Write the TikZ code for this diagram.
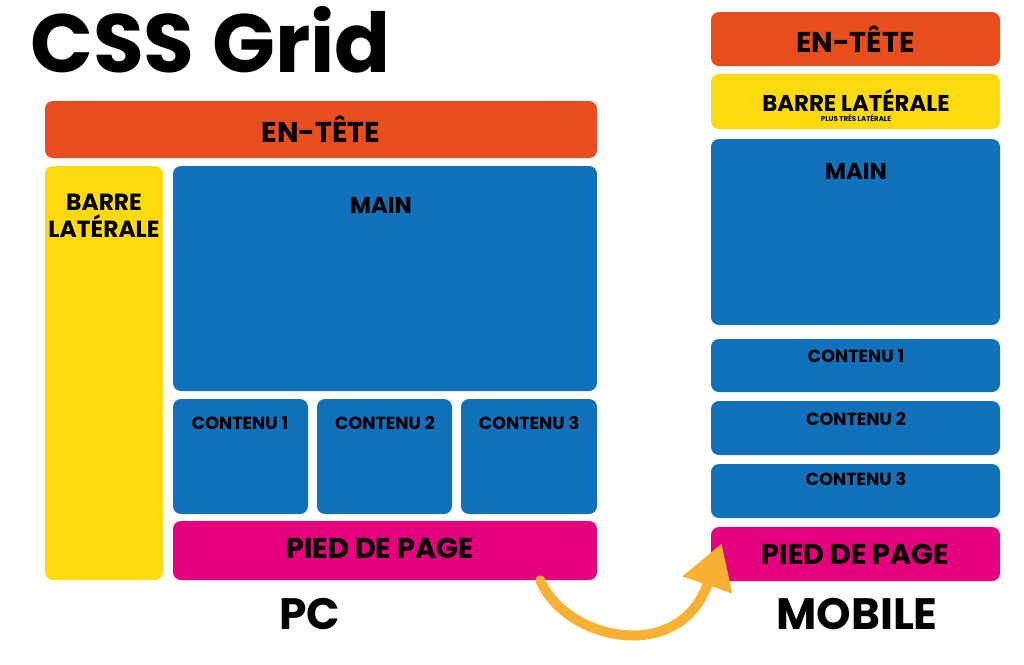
\documentclass[tikz,border=0pt]{standalone}
\usepackage{fontspec}
\setmainfont{Poppins}
\usetikzlibrary{arrows.meta,fit,positioning}
\definecolor{orangeCSS}{HTML}{E84E1B}
\definecolor{jauneCSS}{HTML}{FDDA0F}
\definecolor{bleuCSS}{HTML}{1171BA}
\definecolor{roseCSS}{HTML}{E5007D}
\definecolor{flecheCSS}{HTML}{F8B133}
\begin{document}
\begin{tikzpicture}[x=0.02cm, y=-0.02cm, font=\bfseries, line join=round, line cap=round,
		boite/.style={inner sep=0pt, rounded corners=0.16cm, draw=none},
		grand/.style={font=\bfseries\fontsize{16.3}{18}\selectfont},
		moyen/.style={font=\bfseries\fontsize{13}{15}\selectfont},
		petit/.style={font=\bfseries\fontsize{10}{12}\selectfont},
		legende/.style={font=\bfseries\fontsize{25}{29}\selectfont}]
		\useasboundingbox (0,0) rectangle (1024,664);
		%\draw[gray!30] (0,0) grid[step=1cm] (1024,664);
		% les blocs : version PC puis version mobile
		\foreach \nom/\xa/\ya/\xb/\yb/\coul in {entete/45/101/597/158/orangeCSS, barre/45/166/163/580/jauneCSS, main/173/166/597/391/bleuCSS, contA/173/399/308/514/bleuCSS, contB/317/399/452/514/bleuCSS, contC/461/399/597/514/bleuCSS, pied/173/521/597/580/roseCSS, mentete/711/12/1000/66/orangeCSS, mbarre/711/74/1000/129/jauneCSS, mmain/711/139/1000/325/bleuCSS, mcontA/711/339/1000/392/bleuCSS, mcontB/711/401/1000/455/bleuCSS, mcontC/711/464/1000/518/bleuCSS, mpied/711/527/1000/581/roseCSS}
		\node[boite, fill=\coul, fit={(\xa,\ya) (\xb,\yb)}] (\nom) {};
		\node[anchor=west, font=\bfseries\fontsize{47}{52}\selectfont] (titre) at (24,40) {CSS Grid};
		% textes PC
		\node[grand] (tentete) at (entete) {EN-TÊTE};
		\node[align=center, font=\bfseries\fontsize{13.3}{15.5}\selectfont] (tbarre) at (104,216) {BARRE\\LATÉRALE};
		\node[moyen] (tmain) at (381,205) {MAIN};
		\foreach \i/\x in {1/240,2/385,3/529}
		\node[petit] (tcont\i) at (\x,423) {CONTENU \i};
		\node[grand] (tpied) at (380,548) {PIED DE PAGE};
		\node[legende] (tpc) at (310,614) {PC};
		% textes mobile
		\node[grand] (tmentete) at (mentete) {EN-TÊTE};
		\node[moyen, inner sep=0pt] (tmbarre) at (856,100) {BARRE LATÉRALE};
		\node[font=\bfseries\fontsize{4}{5}\selectfont, inner sep=0pt] (tmsous) at (856,118) {PLUS TRÉS LATÉRALE};
		\node[moyen] (tmmain) at (856,171) {MAIN};
		\foreach \i/\y in {1/356,2/419,3/479}
		\node[petit] (tmcont\i) at (856,\y) {CONTENU \i};
		\node[grand] (tmpied) at (mpied) {PIED DE PAGE};
		\node[legende] (tmobile) at (857,614) {MOBILE};
		% fleche
		\draw[flecheCSS, line width=5.7pt, -{Triangle[length=0.88cm, width=1cm]}] ([shift={(-57,0)}]pied.south east) .. controls +(25,60) and +(-42,122) .. ([shift={(11,-38)}]mpied.south west);
	\end{tikzpicture}
\end{document}
